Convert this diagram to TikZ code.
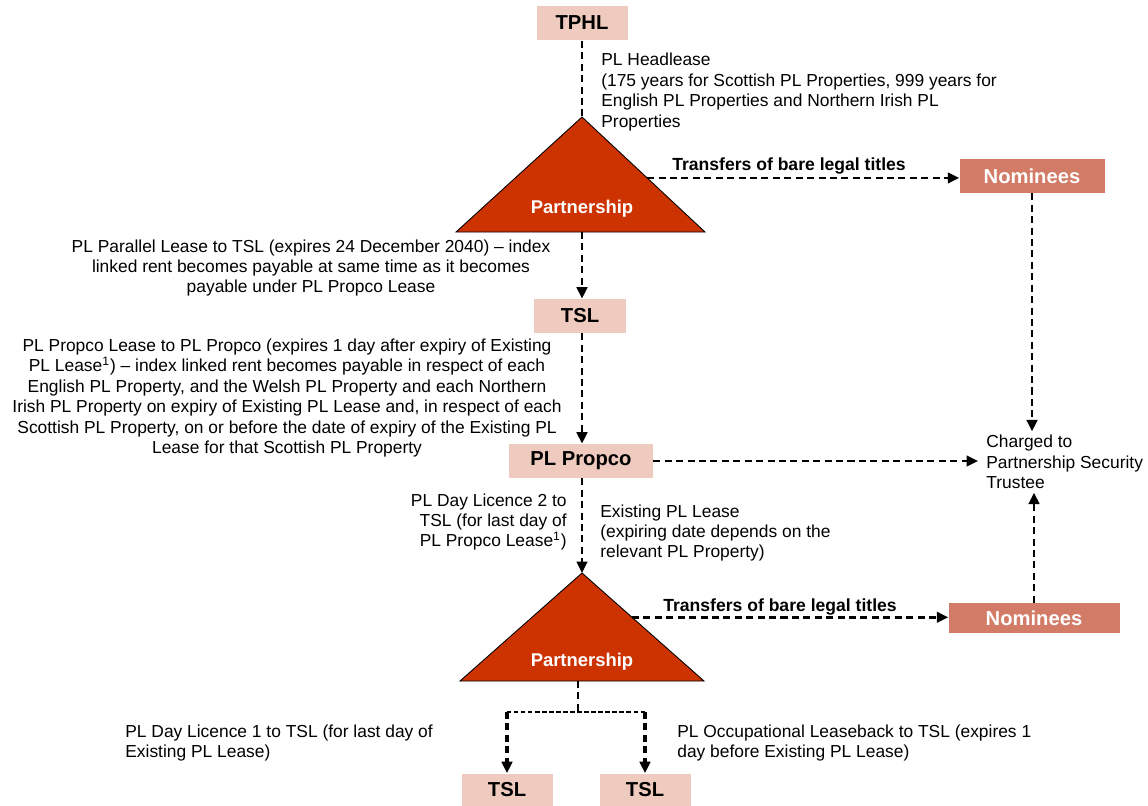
\documentclass[tikz,border=0pt]{standalone}
\usepackage{fontspec}
\setmainfont{Liberation Sans}
\usetikzlibrary{arrows.meta,calc}
\definecolor{entitypink}{HTML}{EECBBE}
\definecolor{nomineered}{HTML}{D27B67}
\definecolor{partnerred}{HTML}{CC3300}
\tikzset{
  entity/.style={fill=entitypink,font=\fontsize{11.5}{14}\selectfont\bfseries,inner sep=0pt},
  nominee/.style={fill=nomineered,text=white,font=\fontsize{11.5}{14}\selectfont\bfseries,inner sep=0pt},
  partner/.style={text=white,font=\fontsize{10.5}{13}\selectfont\bfseries,inner sep=0pt},
  note/.style={font=\fontsize{9.9}{11.6}\selectfont,inner sep=0pt},
  transfer/.style={font=\fontsize{10}{11.6}\selectfont\bfseries,inner sep=0pt},
  link/.style={line width=1.5pt,dash pattern=on 4pt off 2.5pt},
  flow/.style={link,-{Triangle[length=6.5pt,width=6pt]}},
}
\begin{document}
\begin{tikzpicture}[x=0.02cm,y=-0.02cm]
  \useasboundingbox (0,0) rectangle (1148,805);
  \node[entity,minimum width=1.82cm,minimum height=0.7cm] (tphl) at (582,23) {TPHL};
  \coordinate (p1top) at (582,117);
  \coordinate (p1left) at (456,232);
  \coordinate (p1right) at (705,232);
  \coordinate (p1base) at (582,232);
  \coordinate (p1side) at ($(p1top)!0.53!(p1right)$);
  \draw[fill=partnerred,line width=0.5pt] (p1top) -- (p1right) -- (p1left) -- cycle;
  \node[partner] (p1) at (582,209) {Partnership};
  \draw[link] (tphl.south) -- (p1top);
  \node[note,anchor=north west,align=left] (headlease) at (601,53) {PL Headlease\\(175 years for Scottish PL Properties, 999 years for\\English PL Properties and Northern Irish PL\\Properties};
  \node[nominee,minimum width=2.9cm,minimum height=0.68cm] (nom1) at (1032,176) {Nominees};
  \draw[flow] (p1side) -- (p1side -| nom1.west);
  \node[transfer] (trans1) at (789,166) {Transfers of bare legal titles};
  \node[entity,minimum width=1.84cm,minimum height=0.68cm] (tsl1) at (580,316) {TSL};
  \draw[flow] (p1base) -- (p1base |- tsl1.north);
  \node[note,align=center] (parallel) at (311,268) {PL Parallel Lease to TSL (expires 24 December 2040) -- index\\linked rent becomes payable at same time as it becomes\\payable under PL Propco Lease};
  \node[entity,minimum width=2.88cm,minimum height=0.68cm] (propco) at (581,461) {PL Propco};
  \draw[flow] (tsl1.south -| p1base) -- (propco.north -| p1base);
  \node[note,align=center] (propcolease) at (287,398) {PL Propco Lease to PL Propco (expires 1 day after expiry of Existing\\PL Lease\textsuperscript{1}) -- index linked rent becomes payable in respect of each\\English PL Property, and the Welsh PL Property and each Northern\\Irish PL Property on expiry of Existing PL Lease and, in respect of each\\Scottish PL Property, on or before the date of expiry of the Existing PL\\Lease for that Scottish PL Property};
  \node[note,anchor=west,align=left] (trustee) at (986,462) {Charged to\\Partnership Security\\Trustee};
  \draw[flow] (propco.east) -- ($(trustee.west |- propco.east)+(-8,0)$);
  \draw[flow,shorten >=2pt] (nom1.south) -- (nom1.south |- trustee.north);
  \coordinate (p2top) at (582,573);
  \coordinate (p2left) at (460,681);
  \coordinate (p2right) at (704,681);
  \coordinate (p2base) at (578,681);
  \coordinate (p2side) at ($(p2top)!0.41!(p2right)$);
  \draw[fill=partnerred,line width=0.5pt] (p2top) -- (p2right) -- (p2left) -- cycle;
  \node[partner] (p2) at (582,662) {Partnership};
  \draw[flow] (propco.south -| p2top) -- (p2top);
  \node[note,anchor=east,align=right] (daylicence2) at (567,522) {PL Day Licence 2 to\\TSL (for last day of\\PL Propco Lease\textsuperscript{1})};
  \node[note,anchor=west,align=left] (existing) at (600,533) {Existing PL Lease\\(expiring date depends on the\\relevant PL Property)};
  \node[nominee,minimum width=3.42cm,minimum height=0.6cm] (nom2) at (1034,618) {Nominees};
  \draw[flow] (p2side) -- (p2side -| nom2.west);
  \node[transfer] (trans2) at (780,607) {Transfers of bare legal titles};
  \draw[flow,shorten >=2pt] (nom2.north) -- (nom2.north |- trustee.south);
  \node[entity,minimum width=1.82cm,minimum height=0.66cm] (tsl2) at (507,790) {TSL};
  \node[entity,minimum width=1.82cm,minimum height=0.66cm] (tsl3) at (645,790) {TSL};
  \coordinate (fork) at (578,712);
  \draw[link] (p2base) -- (fork);
  \draw[link,dash pattern=on 2.5pt off 1.5pt] (fork -| tsl2) -- (fork -| tsl3);
  \draw[flow,line width=1.8pt] (fork -| tsl2) -- (tsl2.north);
  \draw[flow,line width=1.8pt] (fork -| tsl3) -- (tsl3.north);
  \node[note,anchor=west,align=left] (daylicence1) at (125,743) {PL Day Licence 1 to TSL (for last day of\\Existing PL Lease)};
  \node[note,anchor=west,align=left] (leaseback) at (677,743) {PL Occupational Leaseback to TSL (expires 1\\day before Existing PL Lease)};
\end{tikzpicture}
\end{document}
